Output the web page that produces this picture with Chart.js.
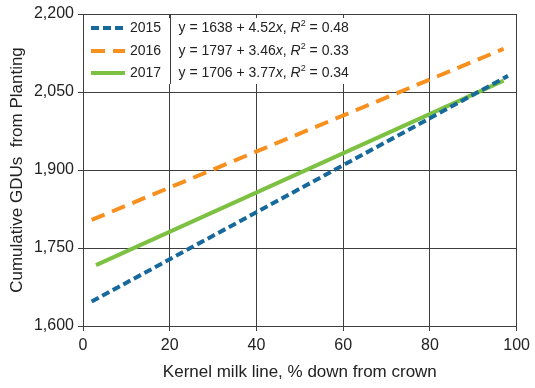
<!DOCTYPE html>
<html>
<head>
<meta charset="utf-8">
<script src="https://cdn.jsdelivr.net/npm/chart.js@4/dist/chart.umd.min.js"></script>
<style>
  html, body { margin: 0; padding: 0; background: #fff; }
  #wrap { width: 535px; height: 388px; }
</style>
</head>
<body>
<div id="wrap"><canvas id="grafico" width="535" height="388"></canvas></div>
<script>
// === Datos (extremos de cada recta de regresión) ===
const anios = ['2015', '2016', '2017'];
const x2015 = [2, 98];
const y2015 = [1647, 2081];
const x2016 = [2, 97];
const y2016 = [1804, 2133];
const x2017 = [3, 97];
const y2017 = [1717, 2072];
const ecuaciones = [
  ['1638', '4.52', '0.48'],
  ['1797', '3.46', '0.33'],
  ['1706', '3.77', '0.34']
];
const ticksX = [0, 20, 40, 60, 80, 100];
const ticksY = [1600, 1750, 1900, 2050, 2200];

const colores = {
  azul: '#16699a',
  naranja: '#f7901e',
  verde: '#7dc142',
  rejilla: '#3e3e3e',
  texto: '#222222'
};
const FUENTE = '"Liberation Sans", Arial, sans-serif';

const puntos = (xs, ys) => xs.map((x, i) => ({ x, y: ys[i] }));

const series = [
  { datos: puntos(x2015, y2015), color: colores.azul, dash: [8, 4] },
  { datos: puntos(x2016, y2016), color: colores.naranja, dash: [14, 8] },
  { datos: puntos(x2017, y2017), color: colores.verde, dash: [] }
];

// === Leyenda con ecuaciones dentro del área del gráfico ===
const leyendaPlugin = {
  id: 'leyendaEcuaciones',
  afterDraw(chart) {
    const { ctx, scales } = chart;
    const area = chart.chartArea;
    const x0 = area.left + 2, x1 = area.left + 269;
    const y0 = area.top + 4, y1 = area.top + 70;
    ctx.save();
    ctx.fillStyle = '#fff';
    ctx.fillRect(x0, y0, x1 - x0, y1 - y0);
    // línea vertical de x = 20 atraviesa la leyenda
    const xl = Math.round(scales.x.getPixelForValue(20)) + 0.5;
    ctx.strokeStyle = colores.rejilla;
    ctx.lineWidth = 1;
    ctx.beginPath();
    ctx.moveTo(xl, area.top);
    ctx.lineTo(xl, y1);
    ctx.stroke();

    const filas = [area.top + 14, area.top + 37, area.top + 59];
    ctx.textBaseline = 'middle';
    series.forEach((s, i) => {
      const y = filas[i];
      ctx.strokeStyle = s.color;
      ctx.lineWidth = 4;
      ctx.setLineDash(s.dash);
      ctx.beginPath();
      ctx.moveTo(area.left + 8, y);
      ctx.lineTo(area.left + 42, y);
      ctx.stroke();
      ctx.setLineDash([]);

      ctx.fillStyle = colores.texto;
      ctx.font = '14px ' + FUENTE;
      ctx.textAlign = 'left';
      ctx.fillText(anios[i], area.left + 47, y);

      // ecuación: y = a + b x, R² = c
      const [a, b, r] = ecuaciones[i];
      let cx = xl + 8;
      const partes = [
        ['y = ' + a + ' + ' + b, 'normal', 14, 0],
        ['x', 'italic', 14, 0],
        [', ', 'normal', 14, 0],
        ['R', 'italic', 14, 0],
        ['2', 'normal', 9, -4],
        [' = ' + r, 'normal', 14, 0]
      ];
      partes.forEach(([txt, estilo, tam, dy]) => {
        ctx.font = (estilo === 'italic' ? 'italic ' : '') + tam + 'px ' + FUENTE;
        ctx.fillText(txt, cx, y + dy);
        cx += ctx.measureText(txt).width;
      });
    });
    ctx.restore();
  }
};

document.addEventListener('DOMContentLoaded', () => {
  const ctx = document.getElementById('grafico');

  new Chart(ctx, {
    type: 'scatter',
    data: {
      datasets: series.map((s, i) => ({
        label: anios[i],
        data: s.datos,
        showLine: true,
        borderColor: s.color,
        backgroundColor: s.color,
        borderWidth: 4,
        borderDash: s.dash,
        borderCapStyle: 'butt',
        pointRadius: 0,
        pointHoverRadius: 0
      }))
    },
    options: {
      responsive: false,
      animation: false,
      events: [],
      layout: { padding: { top: 14, right: 17, left: 0, bottom: 0 } },
      plugins: {
        legend: { display: false },
        tooltip: { enabled: false }
      },
      scales: {
        x: {
          type: 'linear',
          min: 0,
          max: 100,
          afterBuildTicks: (scale) => { scale.ticks = ticksX.map(v => ({ value: v })); },
          afterFit: (scale) => { scale.height = 62; },
          ticks: {
            color: colores.texto,
            font: { family: FUENTE, size: 16 },
            padding: 5,
            maxRotation: 0
          },
          grid: { color: colores.rejilla, tickLength: 5, lineWidth: 1 },
          border: { color: colores.rejilla },
          title: {
            display: true,
            text: 'Kernel milk line, % down from crown',
            color: colores.texto,
            font: { family: FUENTE, size: 17 },
            padding: { top: 0, bottom: 5 }
          }
        },
        y: {
          type: 'linear',
          min: 1600,
          max: 2200,
          afterBuildTicks: (scale) => { scale.ticks = ticksY.map(v => ({ value: v })); },
          afterFit: (scale) => { scale.width = 83; },
          ticks: {
            color: colores.texto,
            font: { family: FUENTE, size: 16 },
            padding: 4,
            callback: (v) => v.toLocaleString('en-US')
          },
          grid: { color: colores.rejilla, tickLength: 5, lineWidth: 1 },
          border: { color: colores.rejilla },
          title: {
            display: true,
            text: 'Cumulative GDUs  from Planting',
            color: colores.texto,
            font: { family: FUENTE, size: 17 },
            padding: { top: 7, bottom: 0 }
          }
        }
      }
    },
    plugins: [leyendaPlugin]
  });
});
</script>
</body>
</html>
